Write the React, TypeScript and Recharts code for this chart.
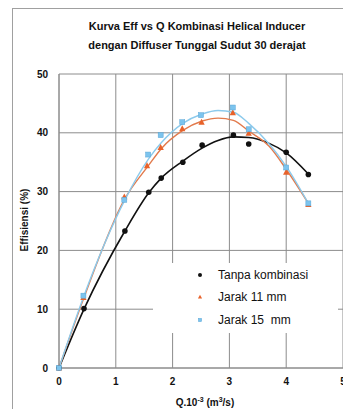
import React from "react";
import {
  ComposedChart,
  Line,
  Scatter,
  XAxis,
  YAxis,
  CartesianGrid,
  Label,
} from "recharts";

// Measured points (Q in 10^-3 m3/s, efficiency in %)
const qTanpa = [0, 0.44, 1.16, 1.58, 1.8, 2.18, 2.52, 3.07, 3.34, 4.0, 4.39];
const effTanpa = [0, 10.1, 23.3, 29.9, 32.3, 35.0, 37.9, 39.6, 38.1, 36.7, 32.9];

const qJarak11 = [0, 0.43, 1.15, 1.55, 1.79, 2.17, 2.51, 3.06, 3.34, 4.0, 4.39];
const effJarak11 = [0, 12.0, 29.1, 34.4, 37.5, 40.7, 41.8, 43.4, 39.9, 33.3, 27.8];

const qJarak15 = [0, 0.43, 1.15, 1.57, 1.79, 2.17, 2.5, 3.06, 3.34, 4.0, 4.39];
const effJarak15 = [0, 12.3, 28.6, 36.3, 39.6, 41.8, 43.0, 44.3, 40.6, 34.1, 28.0];

// Trendline values
const trendQ = [0, 0.44, 1.16, 1.58, 1.8, 2.18, 2.52, 2.8, 3.07, 3.34, 3.7, 4.0, 4.39];
const trendTanpa = [0, 10.0, 23.3, 29.8, 32.3, 35.2, 37.4, 38.7, 39.3, 39.2, 38.2, 36.6, 33.0];
const trendJarak11 = [0, 12.0, 28.8, 34.5, 37.3, 40.4, 42.0, 42.5, 42.1, 40.3, 37.7, 33.8, 28.0];
const trendJarak15 = [0, 12.3, 28.6, 35.6, 38.3, 41.6, 43.2, 43.8, 43.5, 41.6, 38.1, 34.3, 28.0];

const xTicks = [0, 1, 2, 3, 4, 5];
const yTicks = [0, 10, 20, 30, 40, 50];

const legendLabels = ["Tanpa kombinasi", "Jarak 11 mm", "Jarak 15  mm"];

const FONT = '"Liberation Sans", Arial, sans-serif';
const BLACK = "#111111";
const ORANGE = "#e8622a";
const BLUE = "#7cc4ee";

const zip = (xs: number[], ys: number[]) => xs.map((x, i) => ({ x, y: ys[i] }));

const Dot = ({ cx, cy, r = 2.8 }: any) => <circle cx={cx} cy={cy} r={r} fill={BLACK} />;

const Triangle = ({ cx, cy, r = 3.5 }: any) => (
  <polygon
    points={`${cx},${cy - r} ${cx + r * 0.9},${cy + r * 0.7} ${cx - r * 0.9},${cy + r * 0.7}`}
    fill={ORANGE}
  />
);

const Square = ({ cx, cy, r = 2.5 }: any) => (
  <rect x={cx - r} y={cy - r} width={2 * r} height={2 * r} fill={BLUE} stroke="#5aa6d6" strokeWidth={0.5} />
);

// x tick with the glyph kept inside the svg at the right edge
const XTick = ({ x, y, payload }: any) => (
  <text x={x} y={y + 9} textAnchor="middle" fontSize={10} fontWeight={700} fill="#111" fontFamily={FONT}>
    {payload.value}
  </text>
);

export default function App() {
  const markers = [Dot, Triangle, Square];
  const legendSizes = [2, 2.3, 1.6];
  return (
    // pulled over the body margin on every side so coordinates below are page coordinates
    <div
      style={{
        position: "relative",
        width: 351,
        height: 417,
        margin: "-8px -8px -8px -8px",
        overflow: "hidden",
        fontFamily: FONT,
      }}
    >
      {/* outer frame */}
      <div
        style={{
          position: "absolute",
          left: 12,
          top: 8,
          right: -2,
          bottom: -2,
          borderLeft: "1px solid #a0a0a0",
          borderTop: "1px solid #a0a0a0",
        }}
      />
      <div
        style={{
          position: "absolute",
          left: 47,
          top: 17,
          width: 300,
          textAlign: "center",
          fontSize: 11,
          fontWeight: 700,
          lineHeight: "19px",
          color: "#111",
        }}
      >
        Kurva Eff vs Q Kombinasi Helical Inducer
        <br />
        dengan Diffuser Tunggal Sudut 30 derajat
      </div>
      <ComposedChart
        width={351}
        height={417}
        margin={{ top: 74, right: 8, bottom: 0, left: 0 }}
        style={{ position: "absolute", left: 0, top: 0 }}
      >
        <CartesianGrid stroke="#8c8c8c" strokeWidth={1} />
        <XAxis
          type="number"
          dataKey="x"
          domain={[0, 5]}
          ticks={xTicks}
          height={49}
          tickLine={false}
          tickMargin={2}
          axisLine={{ stroke: "#8c8c8c" }}
          tick={<XTick />}
        >
          <Label
            content={() => (
              <text x={205} y={406} textAnchor="middle" fontSize={10} fontWeight={700} fill="#111" fontFamily={FONT}>
                Q.10
                <tspan fontSize={7} dy={-4}>-3</tspan>
                <tspan dy={4}> (m</tspan>
                <tspan fontSize={7} dy={-4}>3</tspan>
                <tspan dy={4}>/s)</tspan>
              </text>
            )}
          />
        </XAxis>
        <YAxis
          type="number"
          dataKey="y"
          domain={[0, 50]}
          ticks={yTicks}
          width={59}
          tickLine={false}
          tickMargin={5}
          axisLine={{ stroke: "#8c8c8c" }}
          tick={{ fontSize: 10, fontWeight: 700, fill: "#111", fontFamily: FONT }}
        >
          <Label
            content={() => (
              <text
                x={24}
                y={220}
                transform="rotate(-90 24 220)"
                textAnchor="middle"
                dominantBaseline="central"
                fontSize={10}
                fontWeight={700}
                fill="#111"
                fontFamily={FONT}
              >
                Effisiensi (%)
              </text>
            )}
          />
        </YAxis>
        <Line
          data={zip(trendQ, trendTanpa)}
          dataKey="y"
          type="monotone"
          stroke={BLACK}
          strokeWidth={1.6}
          dot={false}
          isAnimationActive={false}
        />
        <Line
          data={zip(trendQ, trendJarak11)}
          dataKey="y"
          type="monotone"
          stroke="#e27a4c"
          strokeWidth={1.4}
          dot={false}
          isAnimationActive={false}
        />
        <Line
          data={zip(trendQ, trendJarak15)}
          dataKey="y"
          type="monotone"
          stroke="#8ccaec"
          strokeWidth={1.4}
          dot={false}
          isAnimationActive={false}
        />
        <Scatter data={zip(qTanpa, effTanpa)} shape={Dot} isAnimationActive={false} />
        <Scatter data={zip(qJarak11, effJarak11)} shape={Triangle} isAnimationActive={false} />
        <Scatter data={zip(qJarak15, effJarak15)} shape={Square} isAnimationActive={false} />
      </ComposedChart>
      {/* legend box */}
      <div
        style={{
          position: "absolute",
          left: 153,
          top: 263,
          width: 185,
          height: 70,
          background: "#fff",
        }}
      >
        {legendLabels.map((label, i) => {
          const Marker = markers[i];
          const cy = [12, 34, 57][i];
          return (
            <div key={label}>
              <svg
                width={10}
                height={10}
                style={{ position: "absolute", left: 42, top: cy - 5 }}
              >
                <Marker cx={5} cy={5} r={legendSizes[i]} />
              </svg>
              <div
                style={{
                  position: "absolute",
                  left: 65,
                  top: cy - 8,
                  fontSize: 12,
                  lineHeight: "16px",
                  whiteSpace: "pre",
                  color: "#111",
                }}
              >
                {label}
              </div>
            </div>
          );
        })}
      </div>
    </div>
  );
}
